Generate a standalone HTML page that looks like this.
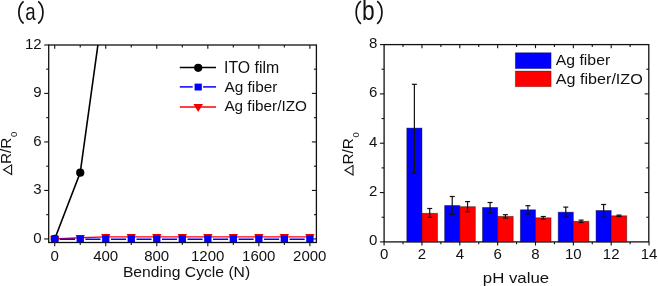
<!DOCTYPE html>
<html><head><meta charset="utf-8"><style>
html,body{margin:0;padding:0;background:#fff;}
body{width:658px;height:286px;overflow:hidden;}
svg{display:block;font-family:"Liberation Sans", sans-serif;will-change:transform;}
text{fill:#111;}
</style></head><body>
<svg width="658" height="286" viewBox="0 0 658 286">
<rect x="48.7" y="45.0" width="267.70" height="197.50" fill="none" stroke="#111" stroke-width="1.3"/>
<line x1="54.72" y1="242.5" x2="54.72" y2="246.3" stroke="#111" stroke-width="1.1"/>
<line x1="54.72" y1="45.0" x2="54.72" y2="48.8" stroke="#111" stroke-width="1.1"/>
<line x1="80.24" y1="242.5" x2="80.24" y2="244.9" stroke="#111" stroke-width="1.1"/>
<line x1="80.24" y1="45.0" x2="80.24" y2="47.4" stroke="#111" stroke-width="1.1"/>
<line x1="105.75" y1="242.5" x2="105.75" y2="246.3" stroke="#111" stroke-width="1.1"/>
<line x1="105.75" y1="45.0" x2="105.75" y2="48.8" stroke="#111" stroke-width="1.1"/>
<line x1="131.27" y1="242.5" x2="131.27" y2="244.9" stroke="#111" stroke-width="1.1"/>
<line x1="131.27" y1="45.0" x2="131.27" y2="47.4" stroke="#111" stroke-width="1.1"/>
<line x1="156.78" y1="242.5" x2="156.78" y2="246.3" stroke="#111" stroke-width="1.1"/>
<line x1="156.78" y1="45.0" x2="156.78" y2="48.8" stroke="#111" stroke-width="1.1"/>
<line x1="182.30" y1="242.5" x2="182.30" y2="244.9" stroke="#111" stroke-width="1.1"/>
<line x1="182.30" y1="45.0" x2="182.30" y2="47.4" stroke="#111" stroke-width="1.1"/>
<line x1="207.82" y1="242.5" x2="207.82" y2="246.3" stroke="#111" stroke-width="1.1"/>
<line x1="207.82" y1="45.0" x2="207.82" y2="48.8" stroke="#111" stroke-width="1.1"/>
<line x1="233.33" y1="242.5" x2="233.33" y2="244.9" stroke="#111" stroke-width="1.1"/>
<line x1="233.33" y1="45.0" x2="233.33" y2="47.4" stroke="#111" stroke-width="1.1"/>
<line x1="258.85" y1="242.5" x2="258.85" y2="246.3" stroke="#111" stroke-width="1.1"/>
<line x1="258.85" y1="45.0" x2="258.85" y2="48.8" stroke="#111" stroke-width="1.1"/>
<line x1="284.36" y1="242.5" x2="284.36" y2="244.9" stroke="#111" stroke-width="1.1"/>
<line x1="284.36" y1="45.0" x2="284.36" y2="47.4" stroke="#111" stroke-width="1.1"/>
<line x1="309.88" y1="242.5" x2="309.88" y2="246.3" stroke="#111" stroke-width="1.1"/>
<line x1="309.88" y1="45.0" x2="309.88" y2="48.8" stroke="#111" stroke-width="1.1"/>
<line x1="44.2" y1="238.95" x2="48.7" y2="238.95" stroke="#111" stroke-width="1.1"/>
<line x1="311.9" y1="238.95" x2="316.4" y2="238.95" stroke="#111" stroke-width="1.1"/>
<line x1="46.2" y1="214.69" x2="48.7" y2="214.69" stroke="#111" stroke-width="1.1"/>
<line x1="313.9" y1="214.69" x2="316.4" y2="214.69" stroke="#111" stroke-width="1.1"/>
<line x1="44.2" y1="190.44" x2="48.7" y2="190.44" stroke="#111" stroke-width="1.1"/>
<line x1="311.9" y1="190.44" x2="316.4" y2="190.44" stroke="#111" stroke-width="1.1"/>
<line x1="46.2" y1="166.18" x2="48.7" y2="166.18" stroke="#111" stroke-width="1.1"/>
<line x1="313.9" y1="166.18" x2="316.4" y2="166.18" stroke="#111" stroke-width="1.1"/>
<line x1="44.2" y1="141.93" x2="48.7" y2="141.93" stroke="#111" stroke-width="1.1"/>
<line x1="311.9" y1="141.93" x2="316.4" y2="141.93" stroke="#111" stroke-width="1.1"/>
<line x1="46.2" y1="117.67" x2="48.7" y2="117.67" stroke="#111" stroke-width="1.1"/>
<line x1="313.9" y1="117.67" x2="316.4" y2="117.67" stroke="#111" stroke-width="1.1"/>
<line x1="44.2" y1="93.42" x2="48.7" y2="93.42" stroke="#111" stroke-width="1.1"/>
<line x1="311.9" y1="93.42" x2="316.4" y2="93.42" stroke="#111" stroke-width="1.1"/>
<line x1="46.2" y1="69.16" x2="48.7" y2="69.16" stroke="#111" stroke-width="1.1"/>
<line x1="313.9" y1="69.16" x2="316.4" y2="69.16" stroke="#111" stroke-width="1.1"/>
<line x1="44.2" y1="45.00" x2="48.7" y2="45.00" stroke="#111" stroke-width="1.1"/>
<text x="41.60" y="242.85" font-size="15" text-anchor="end">0</text>
<text x="41.60" y="194.34" font-size="15" text-anchor="end">3</text>
<text x="41.60" y="145.83" font-size="15" text-anchor="end">6</text>
<text x="41.60" y="97.32" font-size="15" text-anchor="end">9</text>
<text x="41.60" y="48.81" font-size="15" text-anchor="end">12</text>
<text x="54.62" y="260.60" font-size="15" text-anchor="middle">0</text>
<text x="105.65" y="260.60" font-size="15" text-anchor="middle">400</text>
<text x="156.68" y="260.60" font-size="15" text-anchor="middle">800</text>
<text x="207.72" y="260.60" font-size="15" text-anchor="middle">1200</text>
<text x="258.75" y="260.60" font-size="15" text-anchor="middle">1600</text>
<text x="309.78" y="260.60" font-size="15" text-anchor="middle">2000</text>
<text x="122.90" y="276.80" font-size="15.5" textLength="127.28" lengthAdjust="spacingAndGlyphs">Bending Cycle (N)</text>
<polygon points="3.60,169.70 11.60,164.90 11.60,174.50" fill="none" stroke="#111" stroke-width="1.1" stroke-linejoin="miter"/>
<text transform="translate(11.40,164.00) rotate(-90)" font-size="14" textLength="26.41" lengthAdjust="spacingAndGlyphs">R/R</text>
<text transform="translate(17.30,137.00) rotate(-90)" font-size="9.5">0</text>
<path d="M23.6,1.4 C17.3,6.5 17.3,18.4 23.6,23.5" fill="none" stroke="#111" stroke-width="1.7"/>
<text transform="translate(25.2,19.9) scale(0.78,1.0)" font-size="24">a</text>
<path d="M38.2,1.4 C44.5,6.5 44.5,18.4 38.2,23.5" fill="none" stroke="#111" stroke-width="1.7"/>
<defs><clipPath id="ca"><rect x="48.7" y="45.0" width="267.70" height="197.50"/></clipPath></defs>
<g clip-path="url(#ca)">
<polyline points="54.72,238.95 80.24,172.65 105.75,-11.69" fill="none" stroke="#000" stroke-width="1.6"/>
<circle cx="54.72" cy="238.95" r="4.1" fill="#000"/>
<circle cx="80.24" cy="172.65" r="4.1" fill="#000"/>
<circle cx="105.75" cy="-11.69" r="4.1" fill="#000"/>
<polyline points="54.72,238.95 80.24,237.74 105.75,236.85 131.27,236.85 156.78,236.85 182.30,236.85 207.82,236.85 233.33,236.85 258.85,236.85 284.36,236.85 309.88,236.85" fill="none" stroke="#ff0000" stroke-width="1.4"/>
<polygon points="50.02,236.15 59.42,236.15 54.72,244.05" fill="#f00000"/>
<polygon points="75.54,234.94 84.94,234.94 80.24,242.84" fill="#f00000"/>
<polygon points="101.05,234.05 110.45,234.05 105.75,241.95" fill="#f00000"/>
<polygon points="126.57,234.05 135.97,234.05 131.27,241.95" fill="#f00000"/>
<polygon points="152.08,234.05 161.48,234.05 156.78,241.95" fill="#f00000"/>
<polygon points="177.60,234.05 187.00,234.05 182.30,241.95" fill="#f00000"/>
<polygon points="203.12,234.05 212.52,234.05 207.82,241.95" fill="#f00000"/>
<polygon points="228.63,234.05 238.03,234.05 233.33,241.95" fill="#f00000"/>
<polygon points="254.15,234.05 263.55,234.05 258.85,241.95" fill="#f00000"/>
<polygon points="279.66,234.05 289.06,234.05 284.36,241.95" fill="#f00000"/>
<polygon points="305.18,234.05 314.58,234.05 309.88,241.95" fill="#f00000"/>
<line x1="59.92" y1="239.25" x2="75.04" y2="239.25" stroke="#0000ff" stroke-width="1.5"/>
<line x1="85.44" y1="239.25" x2="100.55" y2="239.25" stroke="#0000ff" stroke-width="1.5"/>
<line x1="110.95" y1="239.25" x2="126.07" y2="239.25" stroke="#0000ff" stroke-width="1.5"/>
<line x1="136.47" y1="239.25" x2="151.58" y2="239.25" stroke="#0000ff" stroke-width="1.5"/>
<line x1="161.98" y1="239.25" x2="177.10" y2="239.25" stroke="#0000ff" stroke-width="1.5"/>
<line x1="187.50" y1="239.25" x2="202.62" y2="239.25" stroke="#0000ff" stroke-width="1.5"/>
<line x1="213.02" y1="239.25" x2="228.13" y2="239.25" stroke="#0000ff" stroke-width="1.5"/>
<line x1="238.53" y1="239.25" x2="253.65" y2="239.25" stroke="#0000ff" stroke-width="1.5"/>
<line x1="264.05" y1="239.25" x2="279.16" y2="239.25" stroke="#0000ff" stroke-width="1.5"/>
<line x1="289.56" y1="239.25" x2="304.68" y2="239.25" stroke="#0000ff" stroke-width="1.5"/>
<rect x="51.07" y="235.4" width="7.3" height="6.9" fill="#0000ff"/>
<rect x="76.59" y="235.4" width="7.3" height="6.9" fill="#0000ff"/>
<rect x="102.10" y="235.4" width="7.3" height="6.9" fill="#0000ff"/>
<rect x="127.62" y="235.4" width="7.3" height="6.9" fill="#0000ff"/>
<rect x="153.13" y="235.4" width="7.3" height="6.9" fill="#0000ff"/>
<rect x="178.65" y="235.4" width="7.3" height="6.9" fill="#0000ff"/>
<rect x="204.17" y="235.4" width="7.3" height="6.9" fill="#0000ff"/>
<rect x="229.68" y="235.4" width="7.3" height="6.9" fill="#0000ff"/>
<rect x="255.20" y="235.4" width="7.3" height="6.9" fill="#0000ff"/>
<rect x="280.71" y="235.4" width="7.3" height="6.9" fill="#0000ff"/>
<rect x="306.23" y="235.4" width="7.3" height="6.9" fill="#0000ff"/>
</g>
<line x1="179.8" y1="67.5" x2="216.0" y2="67.5" stroke="#000" stroke-width="1.5"/>
<circle cx="198.2" cy="67.8" r="4.1" fill="#000"/>
<text x="224.00" y="72.90" font-size="16" textLength="55.10" lengthAdjust="spacingAndGlyphs">ITO film</text>
<line x1="179.8" y1="86.9" x2="192.7" y2="86.9" stroke="#0000ff" stroke-width="1.5"/>
<line x1="203.1" y1="86.9" x2="216.0" y2="86.9" stroke="#0000ff" stroke-width="1.5"/>
<rect x="194.6" y="83.6" width="7.2" height="6.9" fill="#0000ff"/>
<text x="224.40" y="92.40" font-size="15.2" textLength="52.99" lengthAdjust="spacingAndGlyphs">Ag fiber</text>
<line x1="179.8" y1="106.95" x2="216.0" y2="106.95" stroke="#ff0000" stroke-width="1.5"/>
<polygon points="193.39999999999998,103.9 203.0,103.9 198.2,112.0" fill="#f00000"/>
<text x="224.40" y="110.90" font-size="15.2" textLength="82.54" lengthAdjust="spacingAndGlyphs">Ag fiber/IZO</text>
<rect x="384.1" y="44.6" width="264.70" height="197.30" fill="none" stroke="#111" stroke-width="1.3"/>
<line x1="384.10" y1="241.9" x2="384.10" y2="245.5" stroke="#111" stroke-width="1.1"/>
<line x1="403.03" y1="241.9" x2="403.03" y2="244.20000000000002" stroke="#111" stroke-width="1.1"/>
<line x1="403.03" y1="44.6" x2="403.03" y2="46.9" stroke="#111" stroke-width="1.1"/>
<line x1="421.95" y1="241.9" x2="421.95" y2="245.5" stroke="#111" stroke-width="1.1"/>
<line x1="421.95" y1="44.6" x2="421.95" y2="48.2" stroke="#111" stroke-width="1.1"/>
<line x1="440.88" y1="241.9" x2="440.88" y2="244.20000000000002" stroke="#111" stroke-width="1.1"/>
<line x1="440.88" y1="44.6" x2="440.88" y2="46.9" stroke="#111" stroke-width="1.1"/>
<line x1="459.80" y1="241.9" x2="459.80" y2="245.5" stroke="#111" stroke-width="1.1"/>
<line x1="459.80" y1="44.6" x2="459.80" y2="48.2" stroke="#111" stroke-width="1.1"/>
<line x1="478.73" y1="241.9" x2="478.73" y2="244.20000000000002" stroke="#111" stroke-width="1.1"/>
<line x1="478.73" y1="44.6" x2="478.73" y2="46.9" stroke="#111" stroke-width="1.1"/>
<line x1="497.65" y1="241.9" x2="497.65" y2="245.5" stroke="#111" stroke-width="1.1"/>
<line x1="497.65" y1="44.6" x2="497.65" y2="48.2" stroke="#111" stroke-width="1.1"/>
<line x1="516.58" y1="241.9" x2="516.58" y2="244.20000000000002" stroke="#111" stroke-width="1.1"/>
<line x1="516.58" y1="44.6" x2="516.58" y2="46.9" stroke="#111" stroke-width="1.1"/>
<line x1="535.50" y1="241.9" x2="535.50" y2="245.5" stroke="#111" stroke-width="1.1"/>
<line x1="535.50" y1="44.6" x2="535.50" y2="48.2" stroke="#111" stroke-width="1.1"/>
<line x1="554.43" y1="241.9" x2="554.43" y2="244.20000000000002" stroke="#111" stroke-width="1.1"/>
<line x1="554.43" y1="44.6" x2="554.43" y2="46.9" stroke="#111" stroke-width="1.1"/>
<line x1="573.35" y1="241.9" x2="573.35" y2="245.5" stroke="#111" stroke-width="1.1"/>
<line x1="573.35" y1="44.6" x2="573.35" y2="48.2" stroke="#111" stroke-width="1.1"/>
<line x1="592.28" y1="241.9" x2="592.28" y2="244.20000000000002" stroke="#111" stroke-width="1.1"/>
<line x1="592.28" y1="44.6" x2="592.28" y2="46.9" stroke="#111" stroke-width="1.1"/>
<line x1="611.20" y1="241.9" x2="611.20" y2="245.5" stroke="#111" stroke-width="1.1"/>
<line x1="611.20" y1="44.6" x2="611.20" y2="48.2" stroke="#111" stroke-width="1.1"/>
<line x1="630.12" y1="241.9" x2="630.12" y2="244.20000000000002" stroke="#111" stroke-width="1.1"/>
<line x1="630.12" y1="44.6" x2="630.12" y2="46.9" stroke="#111" stroke-width="1.1"/>
<line x1="649.05" y1="241.9" x2="649.05" y2="245.5" stroke="#111" stroke-width="1.1"/>
<line x1="379.90000000000003" y1="241.90" x2="384.1" y2="241.90" stroke="#111" stroke-width="1.1"/>
<line x1="381.6" y1="217.23" x2="384.1" y2="217.23" stroke="#111" stroke-width="1.1"/>
<line x1="646.3" y1="217.23" x2="648.8" y2="217.23" stroke="#111" stroke-width="1.1"/>
<line x1="379.90000000000003" y1="192.56" x2="384.1" y2="192.56" stroke="#111" stroke-width="1.1"/>
<line x1="644.5999999999999" y1="192.56" x2="648.8" y2="192.56" stroke="#111" stroke-width="1.1"/>
<line x1="381.6" y1="167.89" x2="384.1" y2="167.89" stroke="#111" stroke-width="1.1"/>
<line x1="646.3" y1="167.89" x2="648.8" y2="167.89" stroke="#111" stroke-width="1.1"/>
<line x1="379.90000000000003" y1="143.22" x2="384.1" y2="143.22" stroke="#111" stroke-width="1.1"/>
<line x1="644.5999999999999" y1="143.22" x2="648.8" y2="143.22" stroke="#111" stroke-width="1.1"/>
<line x1="381.6" y1="118.55" x2="384.1" y2="118.55" stroke="#111" stroke-width="1.1"/>
<line x1="646.3" y1="118.55" x2="648.8" y2="118.55" stroke="#111" stroke-width="1.1"/>
<line x1="379.90000000000003" y1="93.88" x2="384.1" y2="93.88" stroke="#111" stroke-width="1.1"/>
<line x1="644.5999999999999" y1="93.88" x2="648.8" y2="93.88" stroke="#111" stroke-width="1.1"/>
<line x1="381.6" y1="69.21" x2="384.1" y2="69.21" stroke="#111" stroke-width="1.1"/>
<line x1="646.3" y1="69.21" x2="648.8" y2="69.21" stroke="#111" stroke-width="1.1"/>
<line x1="379.90000000000003" y1="44.60" x2="384.1" y2="44.60" stroke="#111" stroke-width="1.1"/>
<text x="377.30" y="245.25" font-size="15" text-anchor="end">0</text>
<text x="377.30" y="195.91" font-size="15" text-anchor="end">2</text>
<text x="377.30" y="146.57" font-size="15" text-anchor="end">4</text>
<text x="377.30" y="97.23" font-size="15" text-anchor="end">6</text>
<text x="377.30" y="47.95" font-size="15" text-anchor="end">8</text>
<text x="384.10" y="259.30" font-size="15" text-anchor="middle">0</text>
<text x="421.95" y="259.30" font-size="15" text-anchor="middle">2</text>
<text x="459.80" y="259.30" font-size="15" text-anchor="middle">4</text>
<text x="497.65" y="259.30" font-size="15" text-anchor="middle">6</text>
<text x="535.50" y="259.30" font-size="15" text-anchor="middle">8</text>
<text x="573.35" y="259.30" font-size="15" text-anchor="middle">10</text>
<text x="611.20" y="259.30" font-size="15" text-anchor="middle">12</text>
<text x="649.05" y="259.30" font-size="15" text-anchor="middle">14</text>
<text x="482.80" y="282.90" font-size="14.8" textLength="66.31" lengthAdjust="spacingAndGlyphs">pH value</text>
<polygon points="345.00,170.20 353.00,165.40 353.00,175.00" fill="none" stroke="#111" stroke-width="1.1" stroke-linejoin="miter"/>
<text transform="translate(352.90,164.50) rotate(-90)" font-size="14" textLength="26.41" lengthAdjust="spacingAndGlyphs">R/R</text>
<text transform="translate(358.80,137.50) rotate(-90)" font-size="9.5">0</text>
<path d="M360.9,1.2 C354.6,6.4 354.6,18.5 360.9,23.8" fill="none" stroke="#111" stroke-width="1.7"/>
<text transform="translate(362.0,20.0) scale(0.95,1.12)" font-size="24">b</text>
<path d="M377.2,1.2 C383.5,6.4 383.5,18.5 377.2,23.8" fill="none" stroke="#111" stroke-width="1.7"/>
<rect x="406.81" y="128.1" width="15.14" height="113.80" fill="#0000ff" stroke="#000" stroke-opacity="0.45" stroke-width="0.9"/>
<rect x="421.95" y="213.3" width="15.52" height="28.60" fill="#ff0000" stroke="#000" stroke-opacity="0.45" stroke-width="0.9"/>
<line x1="414.38" y1="84.3" x2="414.38" y2="173.0" stroke="#111" stroke-width="1.2"/>
<line x1="411.88" y1="84.3" x2="416.88" y2="84.3" stroke="#111" stroke-width="1.2"/>
<line x1="411.88" y1="173.0" x2="416.88" y2="173.0" stroke="#111" stroke-width="1.2"/>
<line x1="429.71" y1="208.5" x2="429.71" y2="217.4" stroke="#111" stroke-width="1.2"/>
<line x1="427.21" y1="208.5" x2="432.21" y2="208.5" stroke="#111" stroke-width="1.2"/>
<line x1="427.21" y1="217.4" x2="432.21" y2="217.4" stroke="#111" stroke-width="1.2"/>
<rect x="444.66" y="205.5" width="15.14" height="36.40" fill="#0000ff" stroke="#000" stroke-opacity="0.45" stroke-width="0.9"/>
<rect x="459.80" y="206.7" width="15.52" height="35.20" fill="#ff0000" stroke="#000" stroke-opacity="0.45" stroke-width="0.9"/>
<line x1="452.23" y1="196.5" x2="452.23" y2="214.5" stroke="#111" stroke-width="1.2"/>
<line x1="449.73" y1="196.5" x2="454.73" y2="196.5" stroke="#111" stroke-width="1.2"/>
<line x1="449.73" y1="214.5" x2="454.73" y2="214.5" stroke="#111" stroke-width="1.2"/>
<line x1="467.56" y1="201.6" x2="467.56" y2="211.8" stroke="#111" stroke-width="1.2"/>
<line x1="465.06" y1="201.6" x2="470.06" y2="201.6" stroke="#111" stroke-width="1.2"/>
<line x1="465.06" y1="211.8" x2="470.06" y2="211.8" stroke="#111" stroke-width="1.2"/>
<rect x="482.51" y="207.5" width="15.14" height="34.40" fill="#0000ff" stroke="#000" stroke-opacity="0.45" stroke-width="0.9"/>
<rect x="497.65" y="216.4" width="15.52" height="25.50" fill="#ff0000" stroke="#000" stroke-opacity="0.45" stroke-width="0.9"/>
<line x1="490.08" y1="202.5" x2="490.08" y2="212.9" stroke="#111" stroke-width="1.2"/>
<line x1="487.58" y1="202.5" x2="492.58" y2="202.5" stroke="#111" stroke-width="1.2"/>
<line x1="487.58" y1="212.9" x2="492.58" y2="212.9" stroke="#111" stroke-width="1.2"/>
<line x1="505.41" y1="214.7" x2="505.41" y2="218.1" stroke="#111" stroke-width="1.2"/>
<line x1="502.91" y1="214.7" x2="507.91" y2="214.7" stroke="#111" stroke-width="1.2"/>
<line x1="502.91" y1="218.1" x2="507.91" y2="218.1" stroke="#111" stroke-width="1.2"/>
<rect x="520.36" y="209.8" width="15.14" height="32.10" fill="#0000ff" stroke="#000" stroke-opacity="0.45" stroke-width="0.9"/>
<rect x="535.50" y="217.8" width="15.52" height="24.10" fill="#ff0000" stroke="#000" stroke-opacity="0.45" stroke-width="0.9"/>
<line x1="527.93" y1="205.7" x2="527.93" y2="214.2" stroke="#111" stroke-width="1.2"/>
<line x1="525.43" y1="205.7" x2="530.43" y2="205.7" stroke="#111" stroke-width="1.2"/>
<line x1="525.43" y1="214.2" x2="530.43" y2="214.2" stroke="#111" stroke-width="1.2"/>
<line x1="543.26" y1="216.5" x2="543.26" y2="219.1" stroke="#111" stroke-width="1.2"/>
<line x1="540.76" y1="216.5" x2="545.76" y2="216.5" stroke="#111" stroke-width="1.2"/>
<line x1="540.76" y1="219.1" x2="545.76" y2="219.1" stroke="#111" stroke-width="1.2"/>
<rect x="558.21" y="212.2" width="15.14" height="29.70" fill="#0000ff" stroke="#000" stroke-opacity="0.45" stroke-width="0.9"/>
<rect x="573.35" y="221.3" width="15.52" height="20.60" fill="#ff0000" stroke="#000" stroke-opacity="0.45" stroke-width="0.9"/>
<line x1="565.78" y1="207.1" x2="565.78" y2="217.1" stroke="#111" stroke-width="1.2"/>
<line x1="563.28" y1="207.1" x2="568.28" y2="207.1" stroke="#111" stroke-width="1.2"/>
<line x1="563.28" y1="217.1" x2="568.28" y2="217.1" stroke="#111" stroke-width="1.2"/>
<line x1="581.11" y1="220.1" x2="581.11" y2="222.5" stroke="#111" stroke-width="1.2"/>
<line x1="578.61" y1="220.1" x2="583.61" y2="220.1" stroke="#111" stroke-width="1.2"/>
<line x1="578.61" y1="222.5" x2="583.61" y2="222.5" stroke="#111" stroke-width="1.2"/>
<rect x="596.06" y="210.5" width="15.14" height="31.40" fill="#0000ff" stroke="#000" stroke-opacity="0.45" stroke-width="0.9"/>
<rect x="611.20" y="215.8" width="15.52" height="26.10" fill="#ff0000" stroke="#000" stroke-opacity="0.45" stroke-width="0.9"/>
<line x1="603.63" y1="204.5" x2="603.63" y2="217.1" stroke="#111" stroke-width="1.2"/>
<line x1="601.13" y1="204.5" x2="606.13" y2="204.5" stroke="#111" stroke-width="1.2"/>
<line x1="601.13" y1="217.1" x2="606.13" y2="217.1" stroke="#111" stroke-width="1.2"/>
<line x1="618.96" y1="215.1" x2="618.96" y2="216.5" stroke="#111" stroke-width="1.2"/>
<line x1="616.46" y1="215.1" x2="621.46" y2="215.1" stroke="#111" stroke-width="1.2"/>
<line x1="616.46" y1="216.5" x2="621.46" y2="216.5" stroke="#111" stroke-width="1.2"/>
<rect x="515.3" y="52.7" width="35.8" height="15.9" fill="#0000ff" stroke="#000" stroke-opacity="0.35" stroke-width="0.8"/>
<rect x="515.3" y="71.0" width="35.8" height="15.7" fill="#ff0000" stroke="#000" stroke-opacity="0.35" stroke-width="0.8"/>
<text x="555.80" y="65.30" font-size="15.2" textLength="54.39" lengthAdjust="spacingAndGlyphs">Ag fiber</text>
<text x="555.80" y="83.50" font-size="15.2" textLength="86.94" lengthAdjust="spacingAndGlyphs">Ag fiber/IZO</text>
</svg>
</body></html>
